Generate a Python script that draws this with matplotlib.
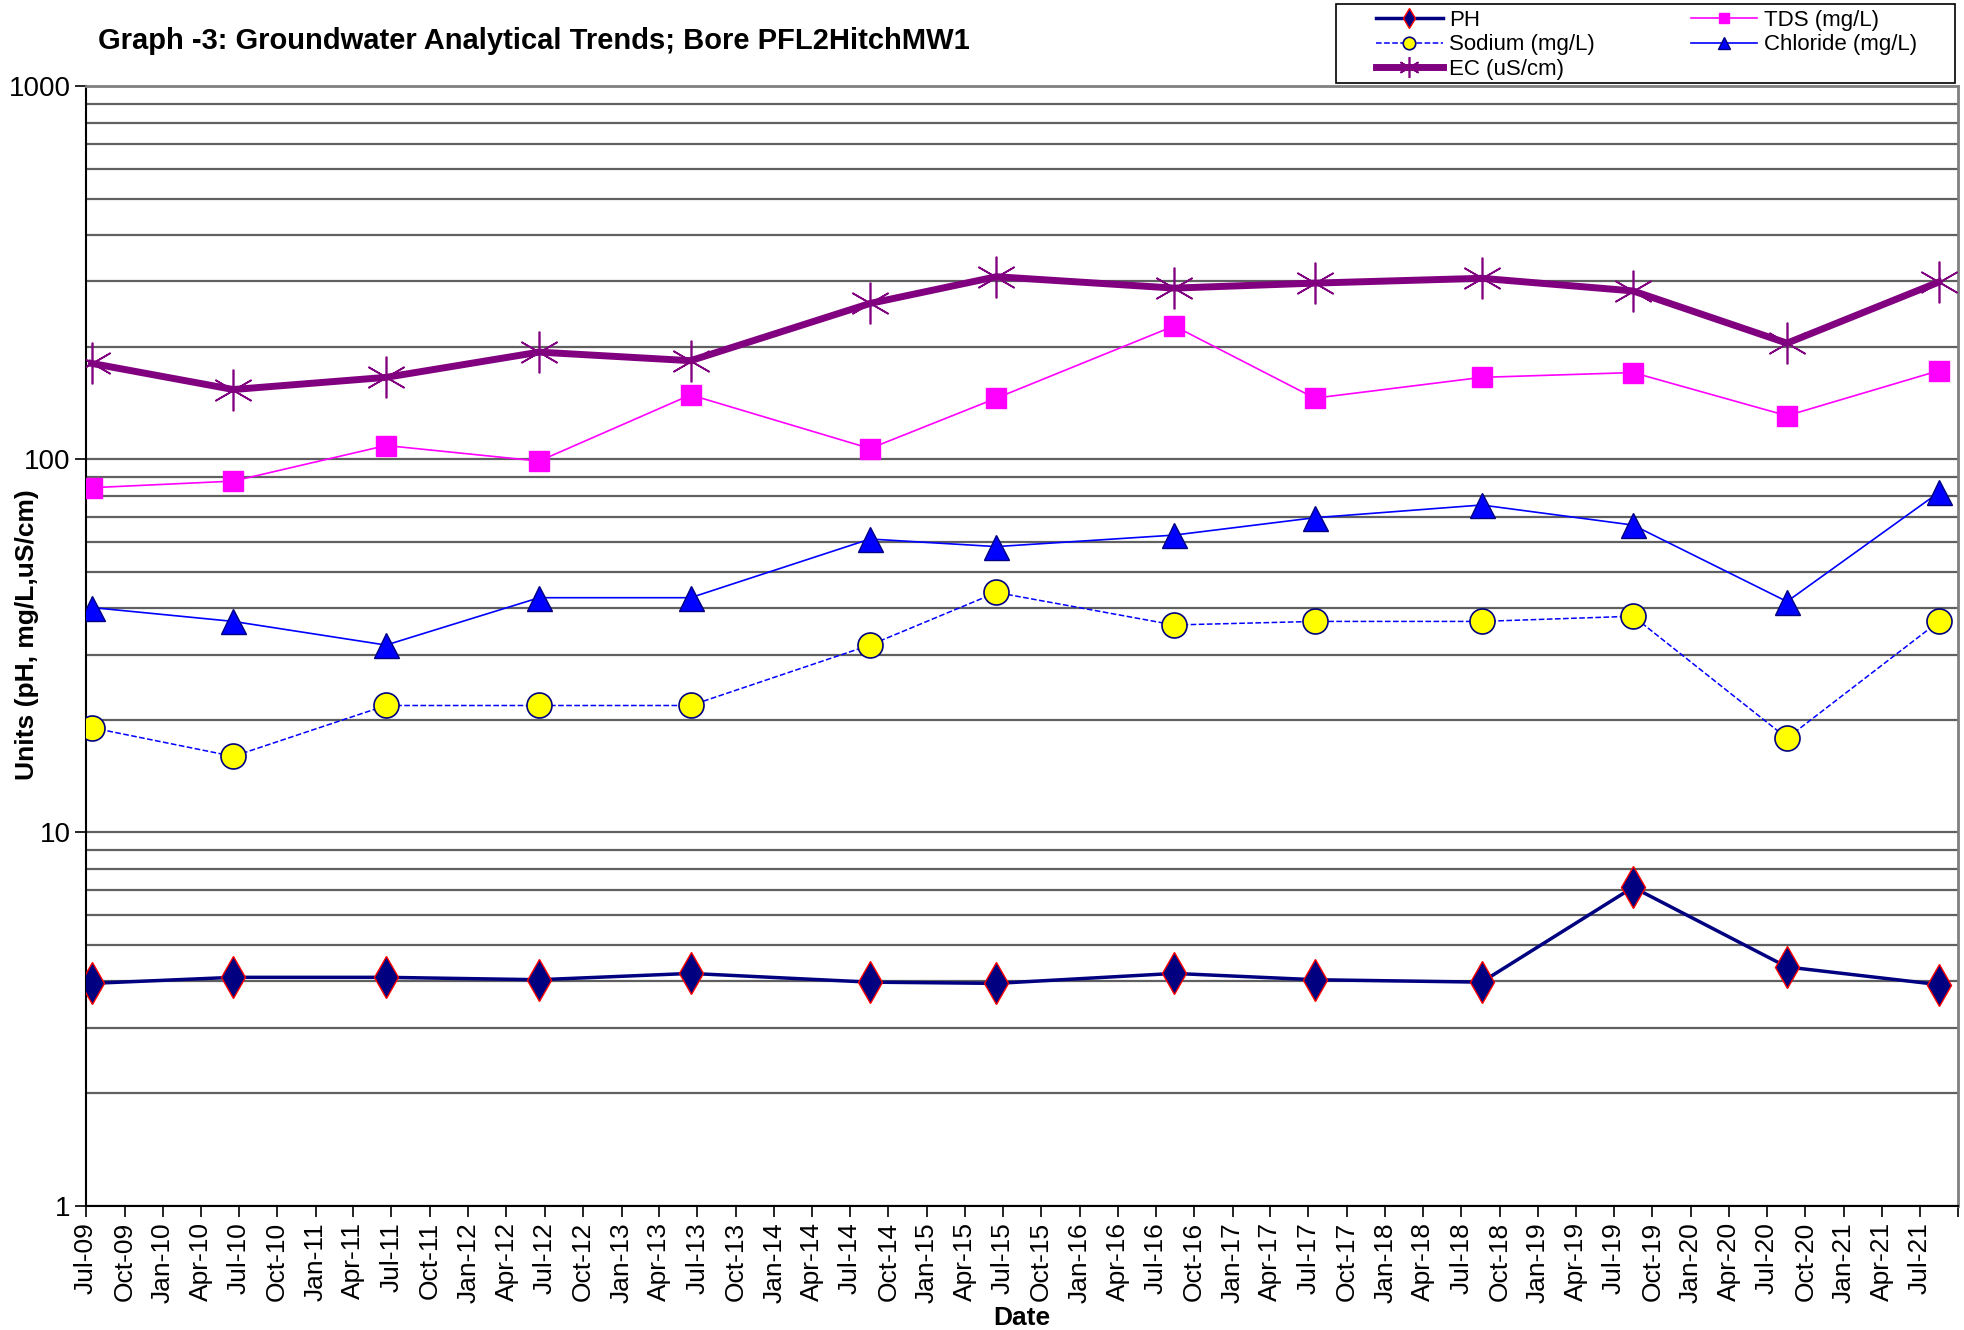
import numpy as np
import pandas as pd
import matplotlib
matplotlib.use("Agg")
import matplotlib.pyplot as plt
from matplotlib.patches import Rectangle
from matplotlib.ticker import LogLocator, FixedLocator, NullFormatter, FuncFormatter

plt.rcParams['font.family'] = ['Liberation Sans', 'DejaVu Sans']

# sampling dates
dates = pd.to_datetime([
    "2009-07-14", "2010-06-18", "2011-06-18", "2012-06-18", "2013-06-15",
    "2014-08-18", "2015-06-16", "2016-08-14", "2017-07-16", "2018-08-19",
    "2019-08-16", "2020-08-18", "2021-08-16",
])

ph = [3.94, 4.09, 4.09, 4.03, 4.19, 3.97, 3.94, 4.19, 4.03, 3.97, 7.13, 4.36, 3.91]
tds = [84, 87.5, 109, 99, 149, 107, 146, 228, 146, 166, 171, 131, 173]
sodium = [19.1, 16.0, 21.9, 21.9, 21.9, 31.8, 44.0, 36.0, 36.8, 36.8, 38.0, 17.9, 36.8]
chloride = [40.1, 36.8, 31.8, 42.6, 42.6, 61.2, 58.4, 62.7, 69.8, 75.5, 66.7, 41.6, 81.6]
ec = [181, 154, 166, 194, 184, 262, 309, 288, 297, 306, 283, 205, 299]

x_start, x_end = "2009-07-01", "2021-10-01"
title = "Graph -3: Groundwater Analytical Trends; Bore PFL2HitchMW1"

W, H = 1965, 1330
fig = plt.figure(figsize=(W / 100, H / 100), dpi=100)
ax = fig.add_axes([0.0438, 0.0936, 0.9527, 0.8414])

l_ph, = ax.plot(dates, ph, '-', color='#000080', lw=2.5, marker='d', ms=21,
                mfc='#000080', mec='red', mew=1.0, zorder=5)
l_tds, = ax.plot(dates, tds, '-', color='#FF00FF', lw=1.2, marker='s', ms=15,
                 mfc='#FF00FF', mec='#FF00FF', zorder=5)
l_na, = ax.plot(dates, sodium, '--', color='#0000FF', lw=1.1, marker='o', ms=18,
                mfc='#FFFF00', mec='#000080', mew=1.2, zorder=5)
l_cl, = ax.plot(dates, chloride, '-', color='#0000FF', lw=1.2, marker='^', ms=18,
                mfc='#0000FF', mec='#000080', mew=1.0, zorder=5)
l_ec, = ax.plot(dates, ec, '-', color='#800080', lw=5, marker=(6, 2, 0), ms=30,
                mec='#800080', mew=1.2, zorder=5)

ax.set_yscale('log')
ax.set_ylim(1, 1000)
ax.yaxis.set_major_locator(FixedLocator([1, 10, 100, 1000]))
ax.yaxis.set_major_formatter(FuncFormatter(lambda v, p: f"{v:g}"))
ax.yaxis.set_minor_locator(LogLocator(base=10, subs=np.arange(2, 10)))
ax.yaxis.set_minor_formatter(NullFormatter())
ax.grid(True, axis='y', which='both', color='#606060', lw=1.6)
ax.set_axisbelow(True)
ax.tick_params(axis='y', which='major', labelsize=20, length=8, width=1.2, pad=3)
ax.tick_params(axis='y', which='minor', length=0)

ax.set_xlim(pd.Timestamp(x_start), pd.Timestamp(x_end))
ticks = pd.date_range(x_start, x_end, freq='QS-JAN')
ax.set_xticks(ticks)
ax.set_xticklabels([t.strftime('%b-%y') if t < pd.Timestamp(x_end) else '' for t in ticks],
                   rotation=90)
ax.tick_params(axis='x', labelsize=19, length=8, width=1.2, pad=4)

for s in ['top', 'right']:
    ax.spines[s].set_color('#808080')
    ax.spines[s].set_linewidth(2)
for s in ['left', 'bottom']:
    ax.spines[s].set_color('black')
    ax.spines[s].set_linewidth(1.5)

ax.set_xlabel("Date", fontsize=19, fontweight='bold', labelpad=2)
ax.set_ylabel("Units (pH, mg/L,uS/cm)", fontsize=19, fontweight='bold')
ax.yaxis.set_label_coords(-0.025, 0.51)

fig.text(98 / W, 1 - 41 / H, title, fontsize=21, fontweight='bold', va='center')

# legend box drawn separately so its padding can match the original
fig.patches.append(Rectangle((1336 / W, 1 - 83 / H), (1955 - 1336) / W, 79 / H,
                             transform=fig.transFigure, fill=True, facecolor='white',
                             edgecolor='black', lw=1.2, zorder=10))
leg = fig.legend([l_ph, l_na, l_ec, l_tds, l_cl],
                 ["PH", "Sodium (mg/L)", "EC (uS/cm)", "TDS (mg/L)", "Chloride (mg/L)"],
                 loc='upper left', bbox_to_anchor=(1376 / W, 1 - 10 / H),
                 ncol=2, fontsize=16, frameon=False, borderaxespad=0, borderpad=0,
                 handlelength=3.0, handletextpad=0.3, columnspacing=4.3,
                 labelspacing=0.15, markerscale=0.5)
leg.set_zorder(11)

fig.savefig("out.png", dpi=100)
